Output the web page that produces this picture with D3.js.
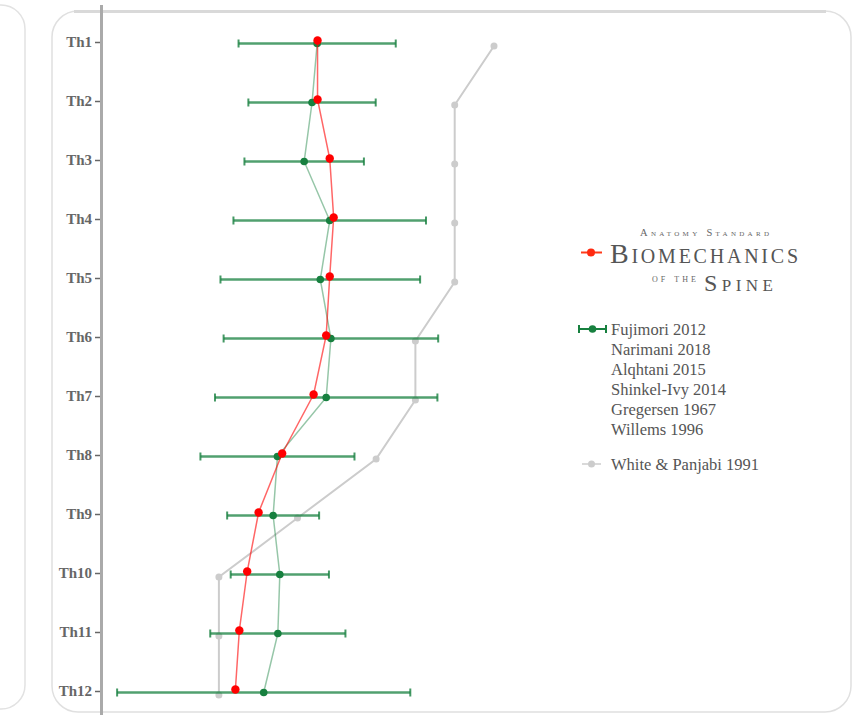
<!DOCTYPE html>
<html><head><meta charset="utf-8">
<script src="https://cdn.jsdelivr.net/npm/d3@7"></script>
<style>
html,body{margin:0;padding:0;background:#fff;}
svg{display:block;}
</style></head>
<body>
<svg id="chart" width="856" height="715"></svg>
<script>
// ---------- data ----------
const levels = ["Th1","Th2","Th3","Th4","Th5","Th6","Th7","Th8","Th9","Th10","Th11","Th12"];
const biomechValues = [4.51,4.51,4.82,4.92,4.82,4.73,4.41,3.61,3.01,2.72,2.52,2.42];
const fujimoriMean  = [4.50,4.37,4.17,4.82,4.58,4.85,4.73,3.49,3.38,3.55,3.50,3.14];
const fujimoriSD    = [2.00,1.62,1.52,2.45,2.54,2.73,2.83,1.96,1.17,1.25,1.72,3.73];
const whitePanjabi  = [9,8,8,8,8,7,7,6,4,2,2,2];
const otherStudies  = ["Fujimori 2012","Narimani 2018","Alqhtani 2015","Shinkel-Ivy 2014","Gregersen 1967","Willems 1996"];
const wpLabel = "White & Panjabi 1991";

// ---------- layout ----------
const svg = d3.select("#chart");
const W = 856, H = 715;
const serif = "'Liberation Serif','Times New Roman',serif";

// background panels
svg.append("rect").attr("x",-800).attr("y",5).attr("width",825).attr("height",704)
  .attr("rx",24).attr("fill","none").attr("stroke","#e2e2e2").attr("stroke-width",1.5);
svg.append("rect").attr("x",52).attr("y",11).attr("width",799).attr("height",701)
  .attr("rx",26).attr("fill","#fff").attr("stroke","#e0e0e0").attr("stroke-width",1.5);
svg.append("line").attr("x1",74).attr("x2",826).attr("y1",11.5).attr("y2",11.5)
  .attr("stroke","#d9d9d9").attr("stroke-width",3);

const x = d3.scaleLinear().domain([-1, 18]).range([101, 847.7]);
const y = d3.scalePoint().domain(levels).range([42, 691]);

// axis line
svg.append("line").attr("x1",101.5).attr("x2",101.5).attr("y1",5).attr("y2",H)
  .attr("stroke","#aaaaaa").attr("stroke-width",3);

const yAxis = d3.axisLeft(y).tickSize(5).tickPadding(3);
const gy = svg.append("g").attr("transform","translate(100,0)").call(yAxis);
gy.select(".domain").remove();
gy.selectAll(".tick line").attr("stroke","#666").attr("stroke-width",1.5);
gy.selectAll(".tick text").attr("fill","#666").style("font-family",serif)
  .style("font-size","15px").style("font-weight","bold");

// White & Panjabi (gray)
const wpOff = 4;
svg.append("path").datum(whitePanjabi)
  .attr("fill","none").attr("stroke","#cccccc").attr("stroke-width",2)
  .attr("d", d3.line().x(d=>x(d)).y((d,i)=>y(levels[i])+wpOff));
svg.append("g").selectAll("circle").data(whitePanjabi).join("circle")
  .attr("cx",d=>x(d)).attr("cy",(d,i)=>y(levels[i])+wpOff).attr("r",3.5)
  .attr("fill","#cccccc");

// Fujimori (green)
const gOff = 1.5;
const green = "#17803f";
svg.append("path").datum(fujimoriMean)
  .attr("fill","none").attr("stroke",green).attr("stroke-opacity",0.45).attr("stroke-width",1.5)
  .attr("d", d3.line().x(d=>x(d)).y((d,i)=>y(levels[i])+gOff));
const eb = svg.append("g").selectAll("g").data(fujimoriMean).join("g")
  .attr("transform",(d,i)=>`translate(0,${y(levels[i])+gOff})`);
eb.append("line").attr("x1",(d,i)=>x(d-fujimoriSD[i])).attr("x2",(d,i)=>x(d+fujimoriSD[i]))
  .attr("stroke",green).attr("stroke-width",2.4).attr("stroke-opacity",0.75);
eb.append("line").attr("x1",(d,i)=>x(d-fujimoriSD[i])).attr("x2",(d,i)=>x(d-fujimoriSD[i]))
  .attr("y1",-4).attr("y2",4).attr("stroke",green).attr("stroke-width",2).attr("stroke-opacity",0.8);
eb.append("line").attr("x1",(d,i)=>x(d+fujimoriSD[i])).attr("x2",(d,i)=>x(d+fujimoriSD[i]))
  .attr("y1",-4).attr("y2",4).attr("stroke",green).attr("stroke-width",2).attr("stroke-opacity",0.8);
eb.append("circle").attr("cx",d=>x(d)).attr("r",3.8).attr("fill",green);

// Biomechanics of the Spine (red)
const rOff = -1.5;
svg.append("path").datum(biomechValues)
  .attr("fill","none").attr("stroke","#ff0000").attr("stroke-opacity",0.6).attr("stroke-width",1.5)
  .attr("d", d3.line().x(d=>x(d)).y((d,i)=>y(levels[i])+rOff));
svg.append("g").selectAll("circle").data(biomechValues).join("circle")
  .attr("cx",d=>x(d)).attr("cy",(d,i)=>y(levels[i])+rOff).attr("r",4.2)
  .attr("fill","#ff0000");

// ---------- legend ----------
const lg = svg.append("g");
// red entry
lg.append("line").attr("x1",581).attr("x2",602).attr("y1",252.5).attr("y2",252.5)
  .attr("stroke","#ff3a1a").attr("stroke-width",2);
lg.append("circle").attr("cx",591).attr("cy",252.5).attr("r",4).attr("fill","#ff2a10");
const tcol = "#555";
lg.append("text").attr("x",640).attr("y",236).attr("textLength",129)
  .style("font-family",serif).style("font-size","10.5px").style("font-variant","small-caps")
  .attr("fill","#666").text("Anatomy Standard");
lg.append("text").attr("x",610).attr("y",263).attr("textLength",188)
  .style("font-family",serif).style("font-size","28px").style("font-variant","small-caps")
  .attr("fill",tcol).text("Biomechanics");
lg.append("text").attr("x",652).attr("y",282).attr("textLength",44)
  .style("font-family",serif).style("font-size","11px").style("font-variant","small-caps")
  .attr("fill","#666").text("of the");
lg.append("text").attr("x",704).attr("y",291).attr("textLength",69)
  .style("font-family",serif).style("font-size","24px").style("font-variant","small-caps")
  .attr("fill",tcol).text("Spine");

// green entry
const ly0 = 329;
lg.append("line").attr("x1",579).attr("x2",606).attr("y1",ly0).attr("y2",ly0)
  .attr("stroke",green).attr("stroke-width",2);
[579,606].forEach(cx=>lg.append("line").attr("x1",cx).attr("x2",cx).attr("y1",ly0-4).attr("y2",ly0+4)
  .attr("stroke",green).attr("stroke-width",2));
lg.append("circle").attr("cx",592.5).attr("cy",ly0).attr("r",3.8).attr("fill",green);
lg.append("g").selectAll("text").data(otherStudies).join("text")
  .attr("x",611).attr("y",(d,i)=>ly0+5.5+i*20)
  .style("font-family",serif).style("font-size","16.5px").attr("fill","#555").text(d=>d);

// gray entry
lg.append("line").attr("x1",582).attr("x2",601).attr("y1",464).attr("y2",464)
  .attr("stroke","#cccccc").attr("stroke-width",1.5);
lg.append("circle").attr("cx",591.5).attr("cy",464).attr("r",3.5).attr("fill","#cccccc");
lg.append("text").attr("x",611).attr("y",469.5)
  .style("font-family",serif).style("font-size","16.5px").attr("fill","#555").text(wpLabel);
</script>
</body></html>
